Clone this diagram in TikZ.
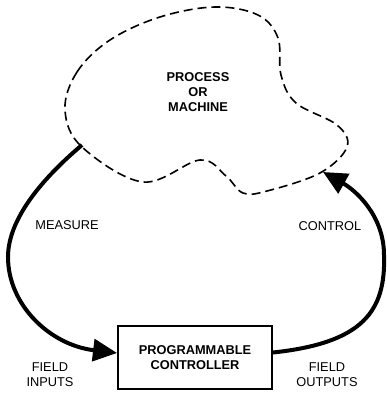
\documentclass[tikz,border=0pt]{standalone}
\usepackage{fontspec}
\setmainfont{Liberation Sans}
\usetikzlibrary{arrows.meta}
\begin{document}
\begin{tikzpicture}[x=1pt,y=-1pt,
  lbl/.style={font=\fontsize{12.8}{15}\selectfont, align=center, inner sep=0pt},
  blbl/.style={font=\fontsize{12.8}{15}\selectfont\bfseries, align=center, inner sep=0pt},
  flow/.style={line width=4pt, -{Triangle[length=24pt,width=22pt]}},
  blob/.style={line width=1.6pt, dash pattern=on 9pt off 5pt},
  ctrlbox/.style={draw, line width=2pt, minimum width=154pt, minimum height=63pt}]
\useasboundingbox (0,0) rectangle (386,394);
% process blob
\draw[blob] plot[smooth cycle, tension=0.6] coordinates {
  (65,110) (77,72) (110,40) (160,17) (215,7) (258,15) (278,38) (281,75)
  (296,103) (337,125) (347,147) (320,173) (267,191) (243,193) (226,176)
  (200,160) (143,182) (82,147)};
\node[blbl] (proc) at (198,92) {PROCESS\\OR\\MACHINE};
% controller
\node[ctrlbox, blbl] (box) at (195,357.5) {PROGRAMMABLE\\CONTROLLER};
\coordinate (mstart) at (82,145);
\coordinate (cend) at (323,172);
\draw[flow] (mstart) .. controls (50,172) and (8,215) .. (8,257)
  .. controls (8,305) and (50,345) .. ([yshift=4.5pt]box.west);
\draw[flow] ([yshift=5pt]box.east) .. controls (362,343) and (386,312) .. (384,255)
  .. controls (384,215) and (355,190) .. (cend);
% labels
\node[lbl] (meas) at (67,225) {MEASURE};
\node[lbl] (ctrl) at (330,226) {CONTROL};
\node[lbl] (fin) at (50,375) {FIELD\\INPUTS};
\node[lbl] (fout) at (327,375) {FIELD\\OUTPUTS};
\end{tikzpicture}
\end{document}
